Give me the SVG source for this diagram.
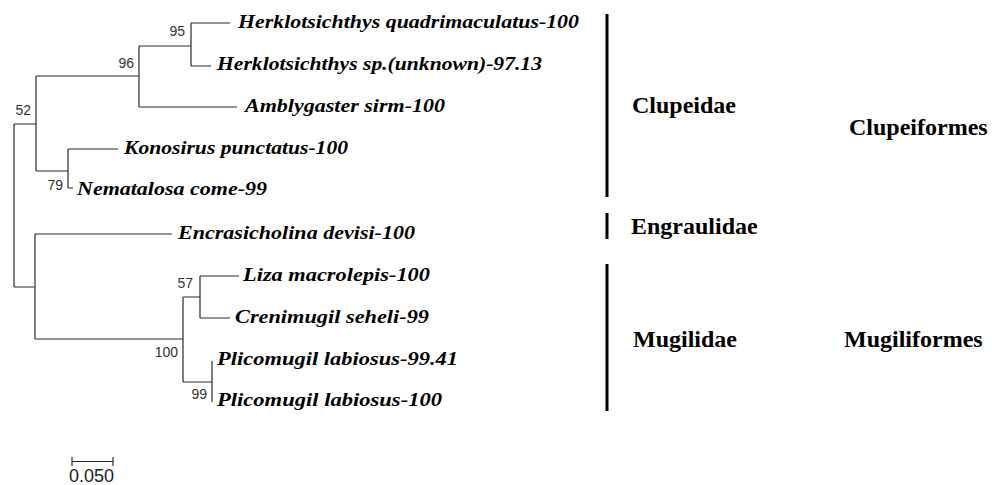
<svg xmlns="http://www.w3.org/2000/svg" width="992" height="485" viewBox="0 0 992 485">
<style>
.br{fill:none;stroke:#2a2a2a;stroke-width:1.2}
.tip{font-family:"Liberation Serif","Times New Roman",serif;font-weight:bold;font-style:italic;font-size:19px;fill:#000}
.bs{font-family:"Liberation Sans",Arial,sans-serif;font-size:14px;fill:#333;text-anchor:end}
.grp{font-family:"Liberation Serif","Times New Roman",serif;font-weight:bold;font-size:24px;fill:#000}
.bar{stroke:#000;stroke-width:3}
</style>
<rect width="992" height="485" fill="#fff"/>
<g id="connectors">
<path class="br" d="M14,124V287M14,124H36M36,76V171M36,76H139M139,46V107M139,46H191M191,23V66M191,23H230M191,66H211M139,107H237M36,171H68M68,149V188M68,149H118M68,188H73M14,287H35M35,234V339M35,234H172M35,339H183M183,297V382M183,297H200M200,276V318M200,276H239M200,318H230M183,382H212M212,361V402"/>
</g>
<g id="bootstrap">
<text class="bs" x="185" y="36">95</text>
<text class="bs" x="134" y="67.5">96</text>
<text class="bs" x="31" y="115">52</text>
<text class="bs" x="63" y="190">79</text>
<text class="bs" x="193" y="288">57</text>
<text class="bs" x="178" y="357">100</text>
<text class="bs" x="207" y="399">99</text>
</g>
<g id="tip-herk-quad"><text class="tip" x="238" y="28" textLength="341" lengthAdjust="spacingAndGlyphs">Herklotsichthys quadrimaculatus-100</text></g>
<g id="tip-herk-sp"><text class="tip" x="217" y="70" textLength="325" lengthAdjust="spacingAndGlyphs">Herklotsichthys sp.(unknown)-97.13</text></g>
<g id="tip-amblygaster"><text class="tip" x="245" y="112" textLength="200" lengthAdjust="spacingAndGlyphs">Amblygaster sirm-100</text></g>
<g id="tip-konosirus"><text class="tip" x="124" y="154" textLength="224" lengthAdjust="spacingAndGlyphs">Konosirus punctatus-100</text></g>
<g id="tip-nematalosa"><text class="tip" x="77" y="195" textLength="190" lengthAdjust="spacingAndGlyphs">Nematalosa come-99</text></g>
<g id="tip-encrasicholina"><text class="tip" x="178" y="239" textLength="237" lengthAdjust="spacingAndGlyphs">Encrasicholina devisi-100</text></g>
<g id="tip-liza"><text class="tip" x="243" y="281" textLength="187" lengthAdjust="spacingAndGlyphs">Liza macrolepis-100</text></g>
<g id="tip-crenimugil"><text class="tip" x="235" y="323" textLength="194" lengthAdjust="spacingAndGlyphs">Crenimugil seheli-99</text></g>
<g id="tip-plicomugil-1"><text class="tip" x="217" y="365" textLength="241" lengthAdjust="spacingAndGlyphs">Plicomugil labiosus-99.41</text></g>
<g id="tip-plicomugil-2"><text class="tip" x="217" y="406" textLength="225" lengthAdjust="spacingAndGlyphs">Plicomugil labiosus-100</text></g>
<g id="group-clupeidae">
<line class="bar" x1="607" y1="14" x2="607" y2="197"/>
<text class="grp" x="632" y="113">Clupeidae</text>
</g>
<g id="group-engraulidae">
<line class="bar" x1="607" y1="213" x2="607" y2="239"/>
<text class="grp" x="631" y="234">Engraulidae</text>
</g>
<g id="group-mugilidae">
<line class="bar" x1="607" y1="264" x2="607" y2="411"/>
<text class="grp" x="633" y="347">Mugilidae</text>
</g>
<g id="order-clupeiformes"><text class="grp" x="849" y="135">Clupeiformes</text></g>
<g id="order-mugiliformes"><text class="grp" x="844" y="347">Mugiliformes</text></g>
<g id="scale">
<path class="br" d="M72,461.5H113M72,457V466M113,457V466"/>
<text x="69" y="482" font-family="'Liberation Sans',Arial,sans-serif" font-size="18" fill="#222">0.050</text>
</g>
</svg>
